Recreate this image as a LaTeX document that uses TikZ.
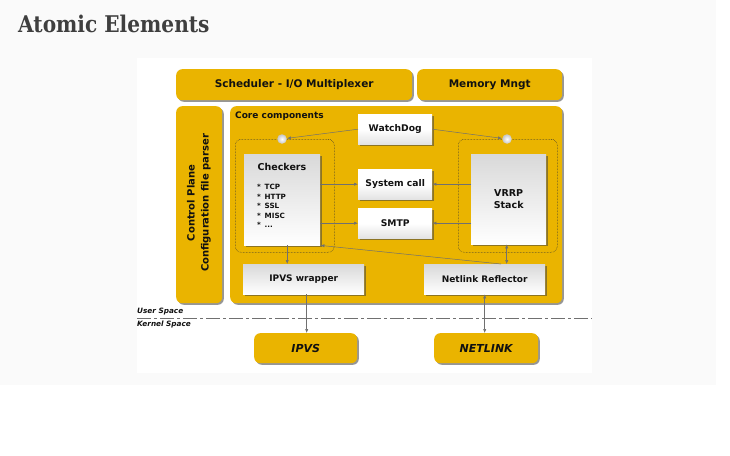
\documentclass[tikz,border=0pt]{standalone}
\usepackage{fontspec}
\setmainfont{DejaVu Sans}
\newfontfamily\titlefont{DejaVu Serif}
\usetikzlibrary{arrows.meta,shadows,calc}
\definecolor{gold}{HTML}{EAB400}
\definecolor{pagebg}{HTML}{FAFAFA}
\definecolor{titlecol}{HTML}{3F3F3F}
\definecolor{arrcol}{HTML}{707070}
\definecolor{ink}{HTML}{111111}
\tikzset{
  shd/.style={drop shadow={shadow xshift=1.6pt,shadow yshift=-1.6pt,fill=black!75,opacity=0.55}},
  goldbox/.style={shd,fill=gold,rounded corners=6pt,inner sep=0pt,anchor=north west,font=\bfseries,text=ink},
  greybox/.style={shd,top color=gray!30,bottom color=white,inner sep=0pt,anchor=north west,font=\bfseries,text=ink},
  lowbox/.style={shd,top color=white,bottom color=gray!22,middle color=white,inner sep=0pt,anchor=north west,font=\bfseries,text=ink},
  dotbox/.style={draw=black!80,densely dotted,line width=0.5pt,rounded corners=6pt,inner sep=0pt,anchor=north west},
  ball/.style={circle,inner color=white,outer color=gray!45,inner sep=0pt,minimum size=9.5pt},
  arr/.style={draw=arrcol,line width=0.5pt,-{Latex[length=4pt,width=3.2pt]}},
  darr/.style={draw=arrcol,line width=0.5pt,{Latex[length=4pt,width=3.2pt]}-{Latex[length=4pt,width=3.2pt]}},
  plain/.style={inner sep=0pt,text=ink}
}
\begin{document}
\begin{tikzpicture}[x=1pt,y=-1pt]
\useasboundingbox (0,0) rectangle (730,455);
\fill[white] (0,0) rectangle (730,455);
\fill[pagebg] (0,0) rectangle (716,385);
\fill[white] (137,58) rectangle (592,373);
\node[plain,anchor=base west,font=\titlefont\bfseries\fontsize{23}{26}\selectfont,text=titlecol] (title) at (18,32) {\scalebox{0.875}[1]{Atomic Elements}};

% top bars
\node[goldbox,minimum width=236pt,minimum height=31pt,font=\bfseries\fontsize{10.5}{12}\selectfont] (sched) at (176,69) {Scheduler - I/O Multiplexer};
\node[goldbox,minimum width=145pt,minimum height=31pt,font=\bfseries\fontsize{10.5}{12}\selectfont] (mem) at (417,69) {Memory Mngt};
% control plane
\node[goldbox,minimum width=46pt,minimum height=197pt] (cp) at (176,106) {};
\node[plain,rotate=90,align=center,font=\bfseries\fontsize{10}{14}\selectfont] (cpt) at (199,203) {Control Plane\\Configuration file parser};
% core
\node[goldbox,minimum width=332pt,minimum height=197pt] (core) at (230,106) {};
\node[plain,anchor=base west,font=\bfseries\fontsize{9}{10}\selectfont] (coret) at (235,118) {Core components};

% dotted groups
\node[dotbox,minimum width=99pt,minimum height=113pt] (gl) at (235,139) {};
\node[dotbox,minimum width=99pt,minimum height=113pt] (gr) at (458,139) {};
\node[ball] (c1) at (282,139) {};
\node[ball] (c2) at (507,139) {};

% grey boxes
\node[lowbox,minimum width=74pt,minimum height=30pt,font=\bfseries\fontsize{9.2}{11}\selectfont] (wd) at (358,114) {WatchDog};
\node[lowbox,minimum width=74pt,minimum height=30pt,font=\bfseries\fontsize{9.2}{11}\selectfont] (sys) at (358,169) {System call};
\node[lowbox,minimum width=74pt,minimum height=30pt,font=\bfseries\fontsize{9.2}{11}\selectfont] (smtp) at (358,208) {SMTP};
\node[greybox,minimum width=76pt,minimum height=91pt] (chk) at (244,154) {};
\node[plain,anchor=center,font=\bfseries\fontsize{9.5}{11}\selectfont] (chkt) at (282,167) {Checkers};
\node[plain,anchor=north west,align=left,font=\bfseries\fontsize{7.2}{9.5}\selectfont] (chkl) at (257,184) {* \,TCP\\* \,HTTP\\* \,SSL\\* \,MISC\\* \,...};
\node[greybox,minimum width=75pt,minimum height=90pt,align=center,font=\bfseries\fontsize{9.5}{11.5}\selectfont] (vrrp) at (471,154) {VRRP\\Stack};
\node[greybox,minimum width=121pt,minimum height=30pt,font=\bfseries\fontsize{9}{11}\selectfont] (ipw) at (243,264) {IPVS wrapper};
\node[greybox,minimum width=121pt,minimum height=30pt,font=\bfseries\fontsize{9}{11}\selectfont] (nlr) at (424,264) {Netlink Reflector};

% kernel
\node[goldbox,minimum width=103pt,minimum height=30pt,font=\bfseries\itshape\fontsize{11}{13}\selectfont] (ipvs) at (254,333) {IPVS};
\node[goldbox,minimum width=104pt,minimum height=30pt,font=\bfseries\itshape\fontsize{11}{13}\selectfont] (nl) at (434,333) {NETLINK};

% user/kernel separation
\coordinate (sepL) at (137,318);
\coordinate (sepR) at (592,318);
\draw[arrcol,line width=1pt,dash pattern=on 14pt off 3pt on 3pt off 3pt] (sepL) -- (sepR);
\node[plain,anchor=base west,font=\bfseries\itshape\fontsize{7.3}{8}\selectfont] (us) at (137,313) {User Space};
\node[plain,anchor=base west,font=\bfseries\itshape\fontsize{7.3}{8}\selectfont] (ks) at (137,326) {Kernel Space};

% connectors
\draw[arr] (wd.west) -- (c1);
\draw[arr] (wd.east) -- (c2);
\draw[arr] (chk.east |- sys.west) -- (sys.west);
\draw[arr] (chk.east |- smtp.west) -- (smtp.west);
\draw[arr] (vrrp.west |- sys.east) -- (sys.east);
\draw[arr] (vrrp.west |- smtp.east) -- (smtp.east);
\coordinate (nlrA) at (501,264);
\draw[arr] (nlrA) -- (chk.south east);
\draw[arr] ([xshift=5pt]chk.south) -- ([xshift=5pt]chk.south |- ipw.north);
\draw[darr] ([xshift=-2pt]vrrp.south) -- ([xshift=-2pt]vrrp.south |- nlr.north);
\draw[arr] ([xshift=3pt]ipw.south) -- ([xshift=3pt]ipw.south |- ipvs.north);
\draw[darr] (nlr.south) -- (nlr.south |- nl.north);
\end{tikzpicture}
\end{document}
